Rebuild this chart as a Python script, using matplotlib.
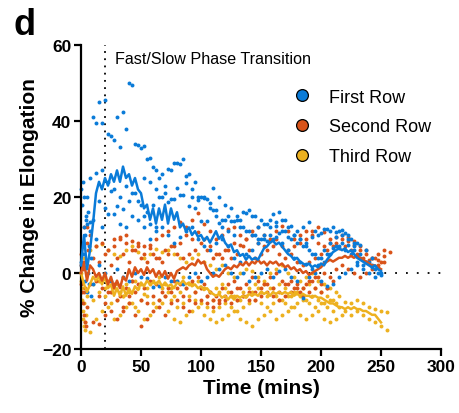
import numpy as np
import matplotlib
matplotlib.use("Agg")
import matplotlib.pyplot as plt
from matplotlib.lines import Line2D

plt.rcParams['font.family'] = ['Liberation Sans', 'DejaVu Sans']

BLUE = '#0a7bd8'
ORANGE = '#d95319'
YELLOW = '#edb120'

# mean lines, sampled every 2.5 min from 0 to 250
line_step = 2.5
blue_mean = [2, 10, 1, 6, 13, 21, 24, 22, 25, 23,
             26, 24, 27, 24, 28, 25, 26, 23, 25, 22,
             21, 17, 18, 14, 17, 13, 17, 14, 18, 13,
             17, 14, 16, 12, 13, 11, 12, 10, 11, 9.5,
             10, 8.5, 9.5, 8, 9.5, 11, 9, 10, 8, 7,
             7.5, 5.5, 6, 4.5, 5, 3.5, 4.5, 3.5, 4, 3.5,
             5, 6.5, 7, 8, 8.5, 7.5, 8, 7, 6, 5,
             4.5, 3.5, 4, 3, 2.5, 2, 2.5, 1.5, 2, 1.5,
             2.5, 2, 3.5, 4.5, 5.5, 6, 6.5, 6, 6.5, 5.5,
             6, 5, 4, 3.5, 3, 2.5, 2, 1.5, 2, 1,
             0.5]
orange_mean = [0, 3, -2, 2, 1, -1, 0, -2, 0, -3,
               -1, -4, -2, -4, -1, -2, 1, -1, 1.5, 0,
               1, -0.5, 1.5, 0, 1, -1, 0.5, -1, 0.5, -1.5,
               0, -1.5, 0.5, 1, 1.5, 1, 2, 2.5, 2, 3.5,
               2.5, 3, 1, 0, -1, -0.5, -1, 0, 1, 1.5,
               1, 2, 1.5, 2.5, 2, 3, 2, 3, 2.5, 3.5,
               2.5, 3, 2, 3, 2.5, 3, 2, 2.5, 1.5, 2,
               1, 1.5, 0.5, 1, 0, 0.5, -0.5, 0, 0.5, 1,
               1.5, 2.5, 3, 3.5, 3, 3.5, 4, 4, 4.5, 4,
               4.5, 4, 4.5, 4, 3.5, 3, 2.5, 2, 2, 1.5,
               1]
yellow_mean = [0, -3, -5, -3, -1, -2, -1, -3, -1, -4,
               -3, -6, -4, -6, -3.5, -6, -4, -5.5, -3.5, -4.5,
               -2.5, -3.5, -2, -3, -2.5, -3, -2, -3.5, -2.5, -3.5,
               -3, -4, -2.5, -3, -2, -3, -2.5, -3.5, -3, -4,
               -3.5, -4.5, -4, -5, -5.5, -6, -5.5, -6.5, -6, -7,
               -6, -7, -6, -6.5, -6, -6.5, -5.5, -6, -5.5, -6,
               -5, -5.5, -5, -6, -5, -5.5, -5, -5.5, -5, -5.5,
               -5, -6, -5.5, -6, -5.5, -6, -6, -6.5, -6, -6.5,
               -6.5, -7, -7.5, -8, -8, -8.5, -9, -9, -9.5, -9,
               -9.5, -9, -9.5, -9.5, -10, -10, -10.5, -11, -11, -12,
               -13]

# individual tracks (dots), one value every 5 min from the given start time
track_step = 5
blue_tracks = [
    (10, [41, 45, 45.5, 36, 41, 42.5, 50, 34, 33, 30, 28, 25, 23, 27, 29, 30, 26, 24,
          20, 19.5, 22.5, 20, 18, 17, 15, 16, 16.5, 15, 14, 13, 15.5, 16, 14, 12.5,
          11, 12, 13.5, 11, 10.5, 11.5, 12, 11, 10.5, 9, 8]),
    (12.5, [39.5, 39.5, 36.6, 35, 33.2, 38, 49.5, 33.8, 33.4, 30.3, 27, 26, 27.4, 29,
            28.7, 25.5, 22, 19.2, 20, 18.4, 16.6, 14, 15, 13.7, 14, 15.8, 15, 12, 13,
            14, 12.5, 11, 9.5, 10, 9, 8, 9.5, 10, 11.6, 11, 10.8, 11.2, 10, 8, 7.5, 6, 4]),
    (5, [13, 14, 19, 17, 21.6, 17.6, 16.8, 19, 21, 18, 16, 18, 20, 21, 19.5, 22.4,
         20.5, 17.6, 17, 13.7, 13.7, 16.6, 13.2, 14, 13.7, 14, 12, 11, 10, 9, 8.5, 9,
         10.5, 11, 9, 8, 7, 6, 5, 4, 5, 6.5, 7, 6, 5, 3, 2, 3, 1, 0]),
    (2.5, [20, 13.4, 9, 12, 15.5, 15.5, 13, 12, 15, 14, 12, 9, 11, 12, 10, 8, 9.5, 11,
           12, 9, 7, 6, 8, 9, 7, 4, 3, 5, 6, 8, 9, 10, 9.5, 8, 6, 4, 3, 2.5, 1, 2, 3,
           5, 7, 8, 7.5, 6, 4, 3, 1.5, 0]),
    (0, [3, -5, -3, 2, 0, -2, 1, -1, -2, 0, -1, -1.3, -3.7, -3.4, -1, -2, -2, -3, -1,
         0, -2, -1, 0, 1, 2, 0, -1, 0, -2, -1, 0, 1, -1, 0.5, 1, -1, -2, -6.6, -1, 0,
         -2, -3.4, -3, -1, 0, 1, 2, 1, 0, -1, -0.5]),
    (52.5, [25, 24, 22, 20, 18.7, 19.5, 20.5, 23.7, 20, 20, 19.7, 17, 15, 12, 11, 10,
            12, 11, 10, 9, 10, 12, 13.5, 14, 12, 10, 9, 7, 5, 4, 6, 8, 9.5, 10, 9, 7,
            5, 3, 2]),
    (7.5, [25, 26.3, 27, 24, 22, 20, 23, 21, 19, 15, 13, 12]),
]
blue_early = [22, 8, 18, 5, 24, 12, -2, 10, 15, 14, 20, 0, 16, 7, -3, 11, -6, 4]
orange_tracks = [
    (2.5, [12, 10, 7, 8, 6, 9, 9, 10, 8.5, 8, 7, 7.5, 9, 10, 11, 12, 13.5, 12, 14,
           15.8, 13, 11, 9, 10, 11.5, 12, 10, 9, 11, 12, 10, 9, 11, 12.5, 11, 9, 8,
           9, 11, 12, 10.8, 9, 8, 9, 8.5, 7.5, 6, 5, 4, 5, 6, 5.5]),
    (0, [5, 8, 4, 3, 5, 2, 4, 5, 3, 6, 4, 3, 5, 4, 6, 7, 5, 4, 5, 6, 8, 6, 4, 5, 6,
         4, 5, 7, 6, 4, 5, 6, 7, 5, 4, 5, 3, 2, 3, 4, 5, 6, 7, 6.5, 7, 6, 5, 4, 3.5,
         4, 3]),
    (2.5, [-5, -3, -2, -4, -5, -3, -6, -4, -2, -3, -4, -2, -3, -5, -4, -2, -3, -4, -2,
           -1, -3, -5, -6, -4, -3, -2, -4, -3, -1, -2, -3, -1, 0, -2, -3, -4, -5, -3,
           -2, -1, 0, -1, 1, 2, 1, 0, -1, 0, 1, 2, 3]),
    (0, [-3, -9, -13, -13.5, -11, -10, -12, -10, -8, -11, -14, -12, -10, -9, -11, -8,
         -7, -9, -10, -8, -7, -8, -9, -7, -6, -8, -7, -6, -5, -7, -6, -5, -6, -7, -6,
         -5, -4, -6, -5, -4, -5, -4]),
    (27.5, [7, 9.5, 8, 6, 7, 5, 6.5, 4, 3, 5, 7, 8, 10, 9, 10.8, 9, 7, 5, 4, 6, 8,
            7.5, 9, 10, 8, 7, 8.5, 9, 7, 6, 7, 10, 11, 10, 8, 7, 8, 9.5, 10, 9.5, 8.5,
            7, 6, 4, 3.5, 4.5]),
    (15, [-6, -8, -5, -7, -9, -6, -5, -7, -8, -6, -7, -6, -5, -4, -6, -7, -5, -4, -6,
          -7, -8, -7, -5, -4, -6, -7, -5, -4, -3, -4, -5, -3, -2, -3, -4, -2, -1, -3,
          -4, -2]),
]
orange_early = [2, -5, -2, -8, 1, -11, -4, -13, 3, -14, 12, 6]
yellow_tracks = [
    (2.5, [4, 6, 7, 7.6, 6, 5, 4.5, 6, 7, 5.5, 4, 5, 6.3, 5.5, 6, 5, 4, 3, 4, 5, 3,
           2, 1, 2, 0, -1, 0, 1, 0.5, -1, -2, 0, 1, 2, 0, -1, -2, -1, 0, -2, -3, -4,
           -5]),
    (0, [-2, -6, -3, -2, -4, -5, -3, -6, -5, -2, -3, -4, -2, -1, -3, -4, -2, -1, -3,
         -5, -4, -6, -7, -5, -4, -6, -7, -5, -4, -3, -5, -6, -4, -3, -4, -6, -5, -4,
         -3, -4, -5, -6, -7, -6, -7.5, -8, -7, -8, -9, -9.5, -10, -10.3]),
    (2.5, [-8, -15.6, -12, -10, -9, -12, -11, -9, -8, -10, -12, -11, -9, -8, -10, -12,
           -13, -11, -10, -9, -11, -12, -13, -12, -11, -10, -12, -13, -14, -12, -11,
           -10, -12, -11, -10, -9, -11, -12, -11, -10, -12, -13, -12, -11]),
    (10, [-7, -5, -6, -8, -7, -6, -8, -9, -7, -6, -8, -7, -6, -7, -9, -8, -6, -7, -8,
          -9, -10, -9, -8, -9, -10, -9, -8, -7, -8, -9, -8, -7, -8, -9, -8, -7, -8,
          -9, -8, -9, -10, -9, -10, -11, -10, -11, -12, -13, -14, -15]),
    (22.5, [-2, -4, -5, -3, -2, -4, -5.5, -3, -2.5, -4, -5, -6, -5, -4, -3, -2, -4,
            -5, -4, -3, -5, -6, -7, -6, -5, -4, -3, -4, -6, -7, -6, -5, -6, -7, -6,
            -7, -8, -7, -8]),
]
yellow_early = [0, -4, -7, -10, -12, -14, -15, -13, -11]

series = [
    ('Third Row', YELLOW, yellow_tracks, yellow_early, yellow_mean),
    ('Second Row', ORANGE, orange_tracks, orange_early, orange_mean),
    ('First Row', BLUE, blue_tracks, blue_early, blue_mean),
]

fig = plt.figure(figsize=(4.59, 4.14), dpi=100)
ax = fig.add_axes([81 / 459, 64 / 414, 360 / 459, 304 / 414])

# dots first
for name, color, tracks, early, mean in series:
    for t0, vals in tracks:
        t = t0 + track_step * np.arange(len(vals))
        ax.scatter(t, vals, s=8, color=color, linewidths=0, zorder=2, clip_on=False)
    t_early = 0.5 * np.arange(len(early))
    ax.scatter(t_early, early, s=8, color=color, linewidths=0, zorder=2, clip_on=False)

# then the mean lines
for name, color, tracks, early, mean in series:
    t = line_step * np.arange(len(mean))
    ax.plot(t, mean, color=color, lw=1.8, zorder=3, clip_on=False)

# reference lines
ax.plot([20, 20], [-20, 60], color='black', lw=1.3, ls=(0, (1, 3)), zorder=1)
ax.plot([0, 300], [0, 0], color='black', lw=1.3, ls=(0, (1, 5)), zorder=1)
ax.text(28, 56.5, 'Fast/Slow Phase Transition', fontsize=11.6, va='center', ha='left')

ax.set_xlim(0, 300)
ax.set_ylim(-20, 60)
ax.set_xticks([0, 50, 100, 150, 200, 250, 300])
ax.set_yticks([-20, 0, 20, 40, 60])
for s in ['top', 'right']:
    ax.spines[s].set_visible(False)
for s in ['left', 'bottom']:
    ax.spines[s].set_linewidth(1.6)
ax.tick_params(width=1.6, length=5, labelsize=12.5, pad=2)
for lab in ax.get_xticklabels() + ax.get_yticklabels():
    lab.set_fontweight('bold')

ax.set_xlabel('Time (mins)', fontsize=15, fontweight='bold', labelpad=3)
ax.set_ylabel('% Change in Elongation', fontsize=15, fontweight='bold', labelpad=2)

handles = [Line2D([], [], ls='', marker='o', ms=8.5, mfc=c, mec='black', mew=0.9)
           for c in [BLUE, ORANGE, YELLOW]]
ax.legend(handles, ['First Row', 'Second Row', 'Third Row'], loc='upper left',
          bbox_to_anchor=(0.545, 0.91), frameon=False, fontsize=13,
          handlelength=1.0, handletextpad=0.95, labelspacing=0.7)

fig.text(0.03, 0.915, 'd', fontsize=26, fontweight='bold', ha='left', va='baseline')

fig.savefig('out.png', dpi=100)
